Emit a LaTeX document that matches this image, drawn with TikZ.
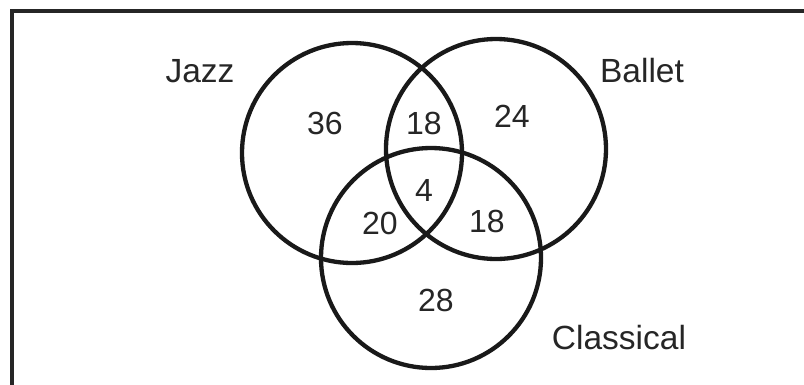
\documentclass[tikz,border=0pt]{standalone}
\usepackage{fontspec}
\setmainfont{Liberation Sans}

\begin{document}
\begin{tikzpicture}[x=1pt,y=-1pt,
  set/.style={line width=4.3pt, black!90},
  lbl/.style={font=\fontsize{33.5}{38}\selectfont, text=black!85},
  num/.style={font=\fontsize{32}{36}\selectfont, text=black!85}]
\useasboundingbox (0,0) rectangle (804,384);
\fill[white] (0,0) rectangle (804,384);
\draw[line width=4.5pt, black!85] (12,11) rectangle (830,410);

\draw[set] (352,153) circle (110);
\draw[set] (496,149) circle (110);
\draw[set] (431,258) circle (110);

\node[lbl] (jazz) at (200,71) {Jazz};
\node[lbl] (ballet) at (642,71) {Ballet};
\node[lbl] (classical) at (619,338) {Classical};

\node[num] (jonly) at (325,123) {36};
\node[num] (jb) at (424,123) {18};
\node[num] (bonly) at (512,116) {24};
\node[num] (all) at (424,190) {4};
\node[num] (jc) at (380,223) {20};
\node[num] (bc) at (487,221) {18};
\node[num] (conly) at (436,300) {28};
\end{tikzpicture}
\end{document}
